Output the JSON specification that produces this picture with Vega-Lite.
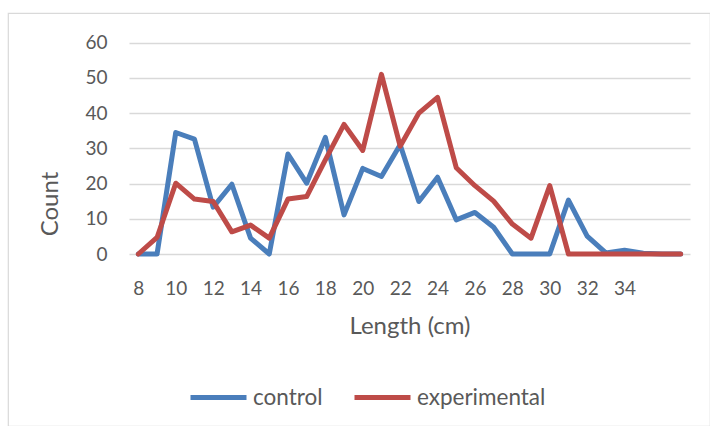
{
  "$schema": "https://vega.github.io/schema/vega-lite/v6.json",
  "width": 702,
  "height": 413,
  "autosize": "none",
  "padding": {"left": 8, "top": 13, "right": 0, "bottom": 0},
  "background": "white",
  "config": {
    "font": "Lato",
    "view": {"stroke": "#d9d9d9", "strokeWidth": 1.2},
    "axis": {"labelColor": "#595959", "titleColor": "#595959", "labelFont": "Lato", "titleFont": "Lato", "titleFontWeight": "normal"},
    "legend": {"labelColor": "#595959", "labelFont": "Lato"}
  },
  "data": {
    "values": [
      {"length": 8, "group": "control", "count": 0},
      {"length": 9, "group": "control", "count": 0},
      {"length": 10, "group": "control", "count": 34.5},
      {"length": 11, "group": "control", "count": 32.6},
      {"length": 12, "group": "control", "count": 13.3},
      {"length": 13, "group": "control", "count": 19.8},
      {"length": 14, "group": "control", "count": 4.5},
      {"length": 15, "group": "control", "count": 0},
      {"length": 16, "group": "control", "count": 28.4},
      {"length": 17, "group": "control", "count": 20.1},
      {"length": 18, "group": "control", "count": 33.1},
      {"length": 19, "group": "control", "count": 11.1},
      {"length": 20, "group": "control", "count": 24.3},
      {"length": 21, "group": "control", "count": 22.0},
      {"length": 22, "group": "control", "count": 31.0},
      {"length": 23, "group": "control", "count": 14.9},
      {"length": 24, "group": "control", "count": 21.8},
      {"length": 25, "group": "control", "count": 9.7},
      {"length": 26, "group": "control", "count": 11.8},
      {"length": 27, "group": "control", "count": 7.6},
      {"length": 28, "group": "control", "count": 0},
      {"length": 29, "group": "control", "count": 0},
      {"length": 30, "group": "control", "count": 0},
      {"length": 31, "group": "control", "count": 15.3},
      {"length": 32, "group": "control", "count": 5.1},
      {"length": 33, "group": "control", "count": 0.3},
      {"length": 34, "group": "control", "count": 1.1},
      {"length": 35, "group": "control", "count": 0.2},
      {"length": 36, "group": "control", "count": 0},
      {"length": 37, "group": "control", "count": 0},
      {"length": 8, "group": "experimental", "count": 0},
      {"length": 9, "group": "experimental", "count": 4.7},
      {"length": 10, "group": "experimental", "count": 20.1},
      {"length": 11, "group": "experimental", "count": 15.6},
      {"length": 12, "group": "experimental", "count": 14.9},
      {"length": 13, "group": "experimental", "count": 6.3},
      {"length": 14, "group": "experimental", "count": 8.2},
      {"length": 15, "group": "experimental", "count": 4.5},
      {"length": 16, "group": "experimental", "count": 15.6},
      {"length": 17, "group": "experimental", "count": 16.3},
      {"length": 18, "group": "experimental", "count": 26.7},
      {"length": 19, "group": "experimental", "count": 36.8},
      {"length": 20, "group": "experimental", "count": 29.4},
      {"length": 21, "group": "experimental", "count": 51.0},
      {"length": 22, "group": "experimental", "count": 30.6},
      {"length": 23, "group": "experimental", "count": 40.0},
      {"length": 24, "group": "experimental", "count": 44.5},
      {"length": 25, "group": "experimental", "count": 24.5},
      {"length": 26, "group": "experimental", "count": 19.4},
      {"length": 27, "group": "experimental", "count": 15.0},
      {"length": 28, "group": "experimental", "count": 8.5},
      {"length": 29, "group": "experimental", "count": 4.5},
      {"length": 30, "group": "experimental", "count": 19.4},
      {"length": 31, "group": "experimental", "count": 0},
      {"length": 32, "group": "experimental", "count": 0},
      {"length": 33, "group": "experimental", "count": 0},
      {"length": 34, "group": "experimental", "count": 0},
      {"length": 35, "group": "experimental", "count": 0},
      {"length": 36, "group": "experimental", "count": 0},
      {"length": 37, "group": "experimental", "count": 0}
    ]
  },
  "mark": {"type": "line", "strokeWidth": 5, "strokeCap": "round", "strokeJoin": "round"},
  "encoding": {
    "x": {
      "field": "length",
      "type": "quantitative",
      "scale": {"domain": [7.5, 37.5], "range": [121, 682], "nice": false, "zero": false},
      "axis": {
        "title": "Length (cm)",
        "values": [8, 10, 12, 14, 16, 18, 20, 22, 24, 26, 28, 30, 32, 34],
        "offset": -172,
        "grid": false,
        "domain": false,
        "ticks": false,
        "tickSize": 0,
        "labelFontSize": 19,
        "labelBaseline": "alphabetic",
        "labelPadding": 40,
        "labelFlush": false,
        "labelOverlap": false,
        "titleFontSize": 24,
        "titleBaseline": "alphabetic",
        "titleY": 79
      }
    },
    "y": {
      "field": "count",
      "type": "quantitative",
      "scale": {"domain": [0, 60], "range": [241, 29.7], "nice": false},
      "axis": {
        "title": "Count",
        "values": [0, 10, 20, 30, 40, 50, 60],
        "offset": -121,
        "grid": true,
        "gridColor": "#d9d9d9",
        "gridWidth": 1.5,
        "domain": false,
        "ticks": false,
        "tickSize": 0,
        "labelFontSize": 19,
        "labelPadding": 22,
        "labelBaseline": "middle",
        "titleFontSize": 24,
        "titleAngle": -90,
        "titleAlign": "center",
        "titleBaseline": "alphabetic",
        "titleX": -71.7,
        "titleY": 190.5
      }
    },
    "color": {
      "field": "group",
      "type": "nominal",
      "scale": {"domain": ["control", "experimental"], "range": ["#4a7ebb", "#be4b48"]},
      "legend": {
        "title": null,
        "orient": "none",
        "direction": "horizontal",
        "legendX": 180,
        "legendY": 354,
        "padding": 0,
        "symbolType": "stroke",
        "symbolStrokeWidth": 5,
        "symbolSize": 3136,
        "labelFontSize": 22.5,
        "labelOffset": 4,
        "columnPadding": 21
      }
    }
  }
}
